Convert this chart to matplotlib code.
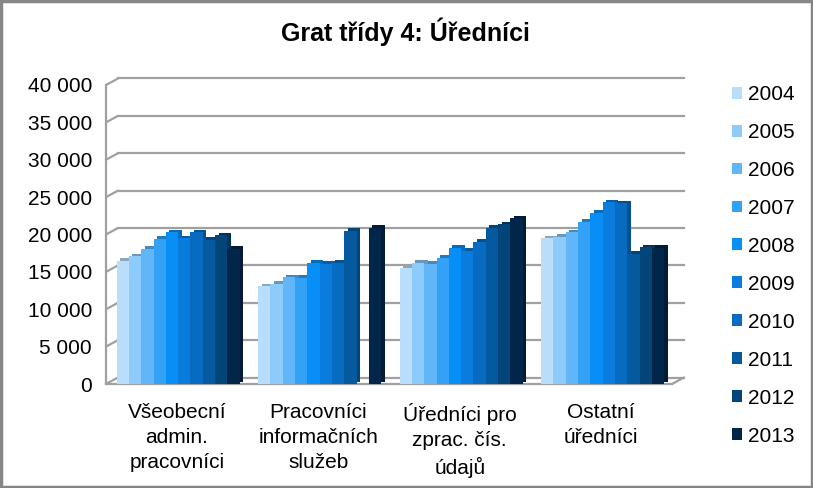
import matplotlib
matplotlib.use("Agg")
import matplotlib.pyplot as plt
import numpy as np
from matplotlib import font_manager
from matplotlib.transforms import ScaledTranslation
from matplotlib.patches import Rectangle
from matplotlib.ticker import FuncFormatter
import matplotlib.colors as mcolors

# ---- data ----
categories = ["Všeobecní\nadmin.\npracovníci",
              "Pracovníci\ninformačních\nslužeb",
              "Úředníci pro\nzprac. čís.\núdajů",
              "Ostatní\núředníci"]
years = ["2004", "2005", "2006", "2007", "2008", "2009", "2010", "2011", "2012", "2013"]
v2004 = [16500, 13100, 15500, 19500]
v2005 = [17100, 13400, 16200, 19700]
v2006 = [18100, 14300, 16100, 20300]
v2007 = [19400, 14200, 16900, 21700]
v2008 = [20300, 16200, 18200, 22900]
v2009 = [19500, 16100, 17800, 24300]
v2010 = [20300, 16200, 19000, 24200]
v2011 = [19300, 20500, 20900, 17400]
v2012 = [19900, np.nan, 21400, 18300]
v2013 = [18100, 20900, 22200, 18200]
series = [v2004, v2005, v2006, v2007, v2008, v2009, v2010, v2011, v2012, v2013]
colors = ["#B8DEFC", "#8CCBFB", "#60B6F9", "#33A2F6", "#088EF7",
          "#0A7CDD", "#076BC1", "#055A9F", "#034479", "#02264A"]
yticks = [0, 5000, 10000, 15000, 20000, 25000, 30000, 35000, 40000]
title = "Grat třídy 4: Úředníci"

names = {f.name for f in font_manager.fontManager.ttflist}
base_font = "Liberation Sans" if "Liberation Sans" in names else "DejaVu Sans"
title_font = "Liberation Sans Narrow" if "Liberation Sans Narrow" in names else base_font
plt.rcParams["font.family"] = [base_font, "DejaVu Sans"]

DPI = 100
fig = plt.figure(figsize=(8.13, 4.88), dpi=DPI)
ax = fig.add_axes([106/813, 1-384/488, (672-106)/813, (384-85)/488])
ax.set_xlim(-0.5, 3.5)
ax.set_ylim(0, 40000)

grid_c = "#A0A0A0"
depth = ScaledTranslation(12/DPI, 6.5/DPI, fig.dpi_scale_trans)
back = ax.transData + depth
# back wall gridlines
for t in yticks:
    ax.plot([-0.5, 3.5], [t, t], color=grid_c, lw=1.6, transform=back,
            clip_on=False, zorder=1)
    ax.annotate("", xy=(-0.5, t), xycoords="data", xytext=(12, 6.5),
                textcoords="offset pixels",
                arrowprops=dict(arrowstyle="-", color=grid_c, lw=1.6,
                                shrinkA=0, shrinkB=0), zorder=1)
# floor front edge and right slant
ax.plot([-0.5, 3.5], [0, 0], color=grid_c, lw=1.6, clip_on=False, zorder=1)
ax.annotate("", xy=(3.5, 0), xycoords="data", xytext=(12, 6.5),
            textcoords="offset pixels",
            arrowprops=dict(arrowstyle="-", color=grid_c, lw=1.6,
                            shrinkA=0, shrinkB=0), zorder=1)

# bars
n = len(series)
w = 0.087
x = np.arange(len(categories))
side = ScaledTranslation(3.5/DPI, 2.5/DPI, fig.dpi_scale_trans)
for i, (vals, c) in enumerate(zip(series, colors)):
    xi = x + (i - (n - 1) / 2) * w + 0.01
    dark = tuple(np.array(mcolors.to_rgb(c)) * 0.75)
    ax.bar(xi, vals, w, color=dark, edgecolor="none", linewidth=0,
           transform=ax.transData + side, clip_on=False, zorder=2 + 2*i)
    ax.bar(xi, vals, w, color=c, edgecolor="none", linewidth=0,
           label=years[i], clip_on=False, zorder=3 + 2*i)

for s in ["top", "right", "bottom"]:
    ax.spines[s].set_visible(False)
ax.spines["left"].set_color(grid_c)
ax.spines["left"].set_linewidth(1.6)

ax.set_yticks(yticks)
ax.yaxis.set_major_formatter(FuncFormatter(lambda v, p: f"{int(v):,}".replace(",", " ")))
ax.tick_params(axis="y", length=0, pad=10, labelsize=15)
ax.set_xticks(x)
ax.set_xticklabels(categories, fontsize=15, linespacing=1.42)
ax.tick_params(axis="x", length=0, pad=13.5)

fig.text(405/813, 1-32/488, title, ha="center", va="center", fontsize=18,
         fontweight="bold", family=[title_font, "DejaVu Sans"])

fig.legend(loc="upper left", bbox_to_anchor=(732/813, 1-85/488),
           frameon=False, fontsize=15, handlelength=0.5, handleheight=0.5,
           handletextpad=0.25, labelspacing=0.91, borderpad=0, borderaxespad=0)

fig.add_artist(Rectangle((0.0015, 0.0025), 0.997, 0.995, transform=fig.transFigure,
                         fill=False, edgecolor="#868686", lw=2.5))

fig.savefig("out.png", dpi=DPI)
